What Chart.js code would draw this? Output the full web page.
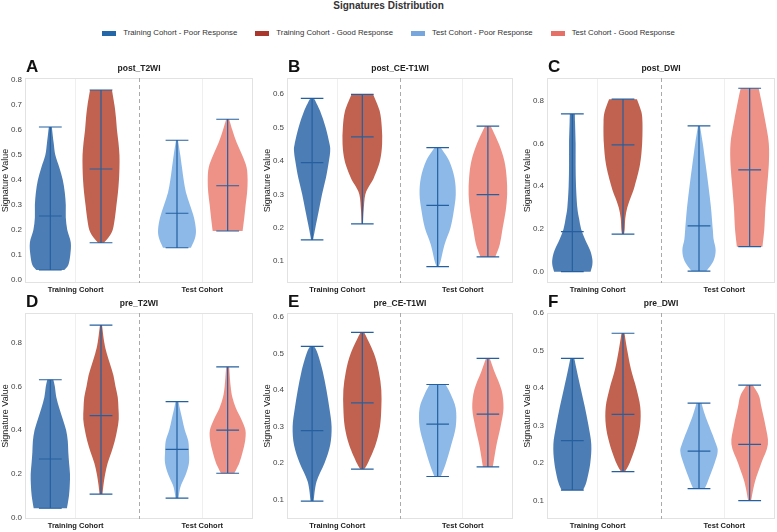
<!DOCTYPE html>
<html>
<head>
<meta charset="utf-8">
<script src="https://cdn.jsdelivr.net/npm/chart.js@4.4.1/dist/chart.umd.min.js"></script>
<style>
  body { margin: 0; width: 777px; height: 532px; overflow: hidden; background: #fff; position: relative;
         font-family: "Liberation Sans", Arial, sans-serif; }
  #title { position: absolute; top: 0; left: 0; width: 777px; text-align: center; font-size: 10px;
           font-weight: bold; color: #333; line-height: 12px; }
  #legend { position: absolute; top: 27px; left: 0; width: 777px; display: flex; justify-content: center;
            gap: 18px; font-size: 7.8px; color: #333; line-height: 12px; }
  #legend span.item { display: flex; align-items: center; gap: 7px; }
  #legend i { display: inline-block; width: 14px; height: 5px; }
  canvas { position: absolute; }
</style>
</head>
<body>
<div id="title">Signatures Distribution</div>
<div id="legend"></div>

<canvas id="c0" width="257" height="238" style="left:0;top:58px"></canvas>
<canvas id="c1" width="255" height="238" style="left:262px;top:58px"></canvas>
<canvas id="c2" width="255" height="238" style="left:522px;top:58px"></canvas>
<canvas id="c3" width="257" height="239" style="left:0;top:293px"></canvas>
<canvas id="c4" width="255" height="239" style="left:262px;top:293px"></canvas>
<canvas id="c5" width="255" height="239" style="left:522px;top:293px"></canvas>

<script>
const groupLabels = ['Training Cohort - Poor Response', 'Training Cohort - Good Response',
                     'Test Cohort - Poor Response', 'Test Cohort - Good Response'];
const cohortLabels = ['Training Cohort', 'Test Cohort'];
const panelNames = ['post_T2WI', 'post_CE-T1WI', 'post_DWI', 'pre_T2WI', 'pre_CE-T1WI', 'pre_DWI'];
const panelLetters = ['A', 'B', 'C', 'D', 'E', 'F'];

// y axis ranges and tick steps per panel
const yMins = [-0.012, 0.035, -0.053, -0.006, 0.048, 0.051];
const yMaxs = [0.808, 0.648, 0.906, 0.935, 0.61, 0.6];
const ySteps = [0.1, 0.1, 0.2, 0.2, 0.1, 0.1];

// violins: value levels (min..max) and density read at each level, order = groupLabels
const postT2WI_levels = [
  [0.04, 0.06, 0.1, 0.15, 0.2, 0.25, 0.3, 0.35, 0.4, 0.45, 0.5, 0.55, 0.612],
  [0.149, 0.17, 0.2, 0.25, 0.3, 0.35, 0.4, 0.45, 0.5, 0.55, 0.6, 0.65, 0.7, 0.76],
  [0.129, 0.167, 0.2, 0.25, 0.3, 0.35, 0.4, 0.45, 0.5, 0.559],
  [0.196, 0.25, 0.3, 0.35, 0.4, 0.45, 0.5, 0.55, 0.6, 0.643]
];
const postT2WI_density = [
  [14, 18, 20, 20.5, 17, 15.5, 15.5, 14.5, 12.5, 9, 5, 3.3, 1.5],
  [3, 7.5, 11.7, 14, 15.5, 17, 18, 18.5, 18.5, 17.5, 16, 15, 13.5, 11],
  [14, 18, 19, 17, 13, 9, 6.7, 5, 3.3, 1],
  [15, 16.7, 18, 19.5, 20, 19, 14.5, 9, 4.7, 1.5]
];
const postT2WI_medians = [0.256, 0.444, 0.267, 0.377];

const postCET1WI_levels = [
  [0.164, 0.2, 0.25, 0.3, 0.35, 0.4, 0.43, 0.45, 0.5, 0.55, 0.587],
  [0.212, 0.25, 0.3, 0.33, 0.35, 0.4, 0.45, 0.5, 0.55, 0.599],
  [0.084, 0.1, 0.15, 0.2, 0.25, 0.3, 0.35, 0.4, 0.44],
  [0.113, 0.15, 0.2, 0.25, 0.3, 0.35, 0.4, 0.45, 0.504]
];
const postCET1WI_density = [
  [1, 3.3, 6.7, 10, 14, 17, 18.3, 17.7, 13.7, 8, 2],
  [0.7, 1.3, 3, 8, 11.7, 17.8, 20, 19.7, 17.5, 11],
  [1, 3, 7, 13, 16.3, 18.3, 17, 11.7, 3],
  [7.5, 12, 15, 18, 19.5, 19, 16.7, 11.3, 3]
];
const postCET1WI_medians = [0.395, 0.472, 0.267, 0.299];

const postDWI_levels = [
  [0, 0.03, 0.06, 0.1, 0.15, 0.2, 0.25, 0.3, 0.4, 0.5, 0.6, 0.7, 0.738],
  [0.176, 0.2, 0.25, 0.3, 0.35, 0.4, 0.5, 0.6, 0.7, 0.75, 0.807],
  [0.003, 0.05, 0.1, 0.15, 0.2, 0.3, 0.4, 0.5, 0.6, 0.682],
  [0.117, 0.2, 0.3, 0.4, 0.5, 0.6, 0.7, 0.8, 0.858]
];
const postDWI_density = [
  [18.3, 20, 20, 17.8, 12.8, 8.8, 6.7, 5, 3.7, 3.3, 3.3, 2.7, 2.5],
  [1, 1.7, 2.3, 4.3, 8, 11.7, 17, 19.2, 19.5, 18.3, 14],
  [7.5, 14.5, 16.7, 14.7, 13.8, 12, 9.5, 6.7, 3.8, 1],
  [12.8, 14.7, 15.8, 17.5, 19.2, 19.2, 15.8, 11.7, 9]
];
const postDWI_medians = [0.187, 0.593, 0.214, 0.476];

const preT2WI_levels = [
  [0.043, 0.1, 0.15, 0.2, 0.25, 0.3, 0.35, 0.4, 0.45, 0.5, 0.55, 0.6, 0.63],
  [0.108, 0.15, 0.2, 0.25, 0.3, 0.35, 0.4, 0.45, 0.5, 0.55, 0.6, 0.65, 0.7, 0.75, 0.8, 0.88],
  [0.089, 0.12, 0.15, 0.2, 0.25, 0.3, 0.35, 0.4, 0.45, 0.5, 0.53],
  [0.203, 0.25, 0.3, 0.35, 0.4, 0.45, 0.5, 0.55, 0.6, 0.689]
];
const preT2WI_density = [
  [16.7, 18.7, 19.5, 19.7, 18.8, 18, 17.5, 15.8, 12.5, 9, 6, 4.5, 3],
  [1.5, 2.5, 4.2, 6.7, 10.5, 13.8, 16.2, 17.8, 17.5, 16.8, 14.5, 12.5, 9.2, 5.8, 3.3, 1],
  [1.5, 2.5, 4.2, 9, 12, 12, 11.3, 7.8, 5.3, 2.8, 1.5],
  [6.7, 11.7, 15, 17.5, 17.8, 13.7, 8.3, 4.7, 3, 1.5]
];
const preT2WI_medians = [0.268, 0.466, 0.312, 0.4];

const preCET1WI_levels = [
  [0.097, 0.15, 0.2, 0.25, 0.3, 0.35, 0.4, 0.45, 0.5, 0.519],
  [0.184, 0.2, 0.25, 0.3, 0.35, 0.4, 0.45, 0.5, 0.557],
  [0.164, 0.2, 0.25, 0.3, 0.35, 0.39, 0.415],
  [0.19, 0.25, 0.3, 0.35, 0.4, 0.45, 0.486]
];
const preCET1WI_density = [
  [1.5, 4.5, 12.5, 18.3, 19.7, 17.5, 14.5, 10.8, 5.5, 2],
  [2, 5.5, 13.3, 17.8, 19.2, 19.2, 16.7, 11.7, 2],
  [3.3, 8.3, 13.7, 18.3, 18.3, 13, 8],
  [5, 8.7, 12.8, 15.8, 13.8, 6.7, 2]
];
const preCET1WI_medians = [0.289, 0.365, 0.307, 0.334];

const preDWI_levels = [
  [0.128, 0.15, 0.2, 0.25, 0.3, 0.35, 0.4, 0.45, 0.479],
  [0.177, 0.2, 0.25, 0.3, 0.35, 0.4, 0.45, 0.5, 0.546],
  [0.132, 0.15, 0.2, 0.23, 0.25, 0.3, 0.33, 0.36],
  [0.1, 0.15, 0.2, 0.25, 0.3, 0.35, 0.38, 0.408]
];
const preDWI_density = [
  [10.8, 14.2, 18, 19, 16.2, 12.5, 8.3, 4.2, 2],
  [2, 6.7, 13.3, 17.2, 17.3, 13.3, 8, 4.3, 1.5],
  [5.8, 8.7, 15.7, 18.7, 17.2, 10, 5.8, 2.5],
  [1.5, 5.3, 11.7, 18.3, 15.8, 11.7, 9.2, 3]
];
const preDWI_medians = [0.26, 0.33, 0.232, 0.25];

const allLevels = [postT2WI_levels, postCET1WI_levels, postDWI_levels, preT2WI_levels, preCET1WI_levels, preDWI_levels];
const allDensity = [postT2WI_density, postCET1WI_density, postDWI_density, preT2WI_density, preCET1WI_density, preDWI_density];
const allMedians = [postT2WI_medians, postCET1WI_medians, postDWI_medians, preT2WI_medians, preCET1WI_medians, preDWI_medians];

const legendColors = ['#2467a8', '#a9372e', '#76a6dc', '#e57068'];
const fillColors = ['#4d7db5', '#c0624f', '#8db9e8', '#ee9287'];
const lineColor = '#24609f';
const FONT = '"Liberation Sans", Arial, sans-serif';

const densityToX = 1 / 127;  // density units -> x axis units
const hueOffset = 0.2;
const capHalf = 0.09;

// legend in html
const legendEl = document.getElementById('legend');
groupLabels.forEach((g, i) => {
  const s = document.createElement('span');
  s.className = 'item';
  s.innerHTML = '<i style="background:' + legendColors[i] + '"></i>' + g;
  legendEl.appendChild(s);
});

// smooth path through points (catmull-rom)
function smoothPath(ctx, pts, first) {
  if (first) ctx.moveTo(pts[0].x, pts[0].y); else ctx.lineTo(pts[0].x, pts[0].y);
  for (let i = 0; i < pts.length - 1; i++) {
    const p0 = pts[Math.max(i - 1, 0)], p1 = pts[i], p2 = pts[i + 1], p3 = pts[Math.min(i + 2, pts.length - 1)];
    ctx.bezierCurveTo(p1.x + (p2.x - p0.x) / 6, p1.y + (p2.y - p0.y) / 6,
                      p2.x - (p3.x - p1.x) / 6, p2.y - (p3.y - p1.y) / 6, p2.x, p2.y);
  }
}

function violinPlugin(p) {
  return {
    id: 'violins' + p,
    beforeDatasetsDraw(chart) {
      const { ctx, chartArea: a, scales: { x, y } } = chart;
      ctx.save();
      // frame
      ctx.strokeStyle = '#e2e2e2';
      ctx.lineWidth = 1;
      ctx.strokeRect(a.left + 0.5, a.top + 0.5, a.right - a.left - 1, a.bottom - a.top - 1);
      // divider between cohorts
      ctx.setLineDash([4, 3]);
      ctx.strokeStyle = '#aaaaaa';
      const dx = Math.round(x.getPixelForValue(0.5)) + 0.5;
      ctx.beginPath(); ctx.moveTo(dx, a.top); ctx.lineTo(dx, a.bottom); ctx.stroke();
      ctx.setLineDash([]);
      ctx.restore();
    },
    afterDatasetsDraw(chart) {
      const { ctx, chartArea: a, scales: { x, y } } = chart;
      ctx.save();
      ctx.beginPath(); ctx.rect(a.left, a.top, a.right - a.left, a.bottom - a.top); ctx.clip();
      for (let g = 0; g < 4; g++) {
        const center = Math.floor(g / 2) + (g % 2 === 0 ? -hueOffset : hueOffset);
        const lv = allLevels[p][g], dn = allDensity[p][g];
        const right = lv.map((v, i) => ({ x: x.getPixelForValue(center + dn[i] * densityToX), y: y.getPixelForValue(v) }));
        const left = lv.map((v, i) => ({ x: x.getPixelForValue(center - dn[i] * densityToX), y: y.getPixelForValue(v) })).reverse();
        ctx.beginPath();
        smoothPath(ctx, right, true);
        smoothPath(ctx, left, false);
        ctx.closePath();
        ctx.fillStyle = fillColors[g];
        ctx.fill();

        // range line, caps and median
        const cx = x.getPixelForValue(center);
        const lo = y.getPixelForValue(lv[0]), hi = y.getPixelForValue(lv[lv.length - 1]);
        const md = y.getPixelForValue(allMedians[p][g]);
        const c0 = x.getPixelForValue(center - capHalf), c1 = x.getPixelForValue(center + capHalf);
        ctx.strokeStyle = lineColor;
        ctx.lineWidth = 1.2;
        ctx.beginPath();
        ctx.moveTo(cx, lo); ctx.lineTo(cx, hi);
        ctx.moveTo(c0, lo); ctx.lineTo(c1, lo);
        ctx.moveTo(c0, hi); ctx.lineTo(c1, hi);
        ctx.moveTo(c0, md); ctx.lineTo(c1, md);
        ctx.stroke();
      }
      ctx.restore();
      // panel letter
      ctx.save();
      ctx.fillStyle = '#111';
      ctx.font = 'bold 17px ' + FONT;
      ctx.textBaseline = 'middle';
      ctx.textAlign = 'left';
      ctx.fillText(panelLetters[p], a.left + 1, a.top - 11);
      ctx.restore();
    }
  };
}

for (let p = 0; p < 6; p++) {
  const rightPad = p % 3 === 0 ? 4 : (p % 3 === 1 ? 4 : 2);
  new Chart(document.getElementById('c' + p), {
    type: 'scatter',
    data: { datasets: [] },
    options: {
      responsive: false,
      animation: false,
      devicePixelRatio: 1,
      layout: { padding: { left: 0, right: rightPad, top: 0, bottom: 0 } },
      plugins: {
        legend: { display: false },
        tooltip: { enabled: false },
        title: {
          display: true, text: panelNames[p], fullSize: false, color: '#222',
          font: { family: FONT, size: 8.5, weight: 'bold' },
          padding: { top: 6, bottom: 3.8 }
        }
      },
      scales: {
        x: {
          type: 'linear', min: -0.4, max: 1.4,
          afterBuildTicks: s => { s.ticks = [{ value: 0 }, { value: 1 }]; },
          afterFit: s => { s.height = 13; },
          ticks: {
            callback: v => cohortLabels[v], color: '#222', padding: 2,
            font: { family: FONT, size: 7.5, weight: 'bold' }
          },
          grid: { color: '#efefef', drawTicks: false },
          border: { display: false }
        },
        y: {
          min: yMins[p], max: yMaxs[p],
          afterFit: s => { s.width = 25; },
          ticks: {
            stepSize: ySteps[p], includeBounds: false, padding: 3, color: '#444',
            callback: v => v.toFixed(1),
            font: { family: FONT, size: 8 }
          },
          title: {
            display: true, text: 'Signature Value', color: '#222', padding: 0,
            font: { family: FONT, size: 9 }
          },
          grid: { display: false, drawTicks: false },
          border: { display: false }
        }
      }
    },
    plugins: [violinPlugin(p)]
  });
}
</script>
</body>
</html>
